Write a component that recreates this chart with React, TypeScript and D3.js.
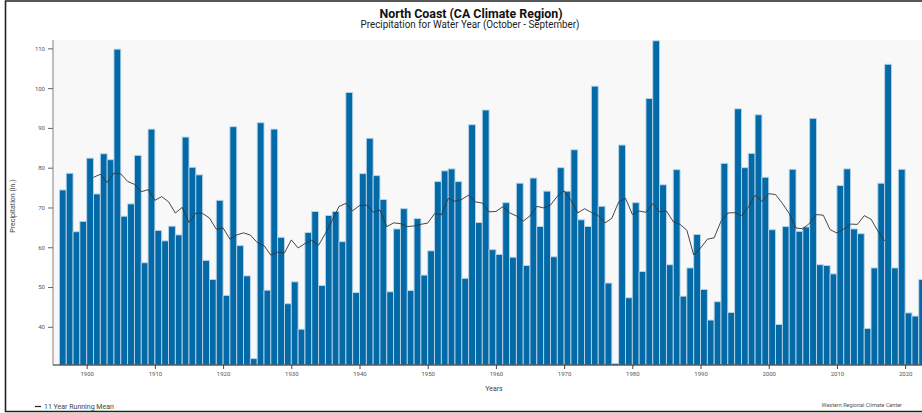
import * as d3 from "d3";
import { useEffect, useRef } from "react";

// water year precipitation (inches), North Coast, 1896 onwards
const firstYear = 1896;
const precip = [
  74.4, 78.6, 63.9, 66.5, // 1896-1899
  82.4, 73.4, 83.5, 82.0, 109.8, 67.8, 70.9, 83.1, 56.1, 89.7, // 1900s
  64.2, 61.6, 65.3, 63.1, 87.7, 80.1, 78.2, 56.7, 51.9, 71.8, // 1910s
  47.9, 90.3, 60.4, 52.8, 32.0, 91.3, 49.2, 89.7, 62.5, 45.8, // 1920s
  51.3, 39.4, 63.7, 69.0, 50.4, 68.0, 69.0, 61.4, 98.9, 48.6, // 1930s
  78.5, 87.4, 78.0, 72.0, 48.8, 64.6, 69.7, 49.1, 67.2, 53.0, // 1940s
  59.1, 76.5, 79.2, 79.7, 76.5, 52.2, 90.8, 66.2, 94.5, 59.4, // 1950s
  58.2, 71.2, 57.5, 76.1, 55.4, 77.4, 65.2, 74.1, 57.6, 80.0, // 1960s
  74.1, 84.5, 66.9, 65.2, 100.5, 70.3, 51.0, 30.8, 85.7, 47.3, // 1970s
  71.2, 53.9, 97.4, 111.9, 75.7, 55.6, 79.5, 47.7, 54.8, 63.2, // 1980s
  49.4, 41.7, 46.3, 81.1, 43.6, 94.8, 80.0, 83.6, 93.3, 77.6, // 1990s
  64.4, 40.6, 65.2, 79.6, 64.0, 65.1, 92.4, 55.6, 55.4, 53.3, // 2000s
  75.5, 79.7, 64.6, 63.4, 39.6, 54.8, 76.1, 106.0, 54.8, 79.6, // 2010s
  43.5, 42.7, 51.9, // 2020-2022
];
const yTicks = [40, 50, 60, 70, 80, 90, 100, 110];
const xTicks = [1900, 1910, 1920, 1930, 1940, 1950, 1960, 1970, 1980, 1990, 2000, 2010, 2020];
const meanWindow = 11;

export default function App() {
  const ref = useRef<SVGSVGElement>(null);

  useEffect(() => {
    const W = 922,
      H = 413;
    const plot = { left: 53, top: 40, bottom: 365 };

    const data = precip.map((v, i) => ({ year: firstYear + i, value: v }));
    const lastYear = firstYear + precip.length;

    // 11-year centred running mean of the bars
    const half = Math.floor(meanWindow / 2);
    const running = data
      .filter((d, i) => i >= half && i < data.length - half)
      .map((d) => {
        const i = d.year - firstYear;
        return { year: d.year, value: d3.mean(precip.slice(i - half, i + half + 1)) as number };
      });

    const svg = d3.select(ref.current);
    svg.selectAll("*").remove();

    const x = d3.scaleLinear().domain([firstYear, lastYear]).range([59.4, 925.6]);
    const y = d3.scaleLinear().domain([30.4, 112.1]).range([plot.bottom, plot.top]);

    svg.append("rect").attr("width", W).attr("height", H).attr("fill", "#fff");

    svg
      .append("rect")
      .attr("x", plot.left)
      .attr("y", plot.top)
      .attr("width", W - plot.left)
      .attr("height", plot.bottom - plot.top)
      .attr("fill", "#f8f8f8");

    svg
      .append("g")
      .selectAll("rect")
      .data(data)
      .join("rect")
      .attr("x", (d) => x(d.year))
      .attr("y", (d) => y(d.value))
      .attr("width", (d) => x(d.year + 1) - x(d.year))
      .attr("height", (d) => plot.bottom - y(d.value))
      .attr("fill", "#036aa7")
      .attr("stroke", "#b9d5ea")
      .attr("stroke-width", 0.9);

    const line = d3
      .line<{ year: number; value: number }>()
      .x((d) => x(d.year))
      .y((d) => y(d.value));

    svg
      .append("path")
      .datum(running)
      .attr("d", line)
      .attr("fill", "none")
      .attr("stroke", "#333")
      .attr("stroke-width", 0.9);

    // axes
    const yAxis = svg
      .append("g")
      .attr("transform", `translate(${plot.left},0)`)
      .call(d3.axisLeft(y).tickValues(yTicks).tickSize(5).tickPadding(3));
    yAxis.select(".domain").attr("stroke", "#aaa").attr("stroke-width", 1.5).attr("d", `M0,${plot.top}V${plot.bottom}`);
    yAxis.selectAll(".tick line").attr("stroke", "#666");
    yAxis.selectAll(".tick text").attr("fill", "#555").style("font-size", "6px").style("font-family", "Roboto, sans-serif");

    const xAxis = svg
      .append("g")
      .attr("transform", `translate(0,${plot.bottom})`)
      .call(d3.axisBottom(x).tickValues(xTicks).tickFormat(d3.format("d")).tickSize(4).tickPadding(3));
    xAxis.select(".domain").attr("stroke", "#222").attr("stroke-width", 1.2).attr("d", `M${plot.left},0H${W}`);
    xAxis.selectAll(".tick line").attr("stroke", "#444");
    xAxis.selectAll(".tick text").attr("fill", "#555").style("font-size", "6px").style("font-family", "Roboto, sans-serif");

    // titles
    svg
      .append("text")
      .attr("x", 471)
      .attr("y", 17.5)
      .attr("text-anchor", "middle")
      .attr("font-family", "'Liberation Sans Narrow', Roboto, sans-serif")
      .attr("font-weight", "bold")
      .attr("font-size", 13)
      .attr("textLength", 183)
      .attr("lengthAdjust", "spacingAndGlyphs")
      .attr("fill", "#111")
      .text("North Coast (CA Climate Region)");

    svg
      .append("text")
      .attr("x", 470)
      .attr("y", 28)
      .attr("text-anchor", "middle")
      .attr("font-family", "'Liberation Sans Narrow', Roboto, sans-serif")
      .attr("font-size", 10)
      .attr("textLength", 219)
      .attr("lengthAdjust", "spacingAndGlyphs")
      .attr("fill", "#222")
      .text("Precipitation for Water Year (October - September)");

    svg
      .append("text")
      .attr("transform", `translate(15,206) rotate(-90)`)
      .attr("text-anchor", "middle")
      .attr("font-family", "Roboto, sans-serif")
      .attr("font-size", 7)
      .attr("fill", "#444")
      .text("Precipitation (in.)");

    svg
      .append("text")
      .attr("x", 494)
      .attr("y", 391)
      .attr("text-anchor", "middle")
      .attr("font-family", "Roboto, sans-serif")
      .attr("font-size", 7)
      .attr("fill", "#444")
      .text("Years");

    // legend
    svg
      .append("line")
      .attr("x1", 35)
      .attr("x2", 41)
      .attr("y1", 406.5)
      .attr("y2", 406.5)
      .attr("stroke", "#222")
      .attr("stroke-width", 1.2);
    svg
      .append("text")
      .attr("x", 44)
      .attr("y", 409)
      .attr("font-family", "Roboto, sans-serif")
      .attr("font-size", 7)
      .attr("fill", "#444")
      .text("11 Year Running Mean");

    svg
      .append("text")
      .attr("x", 902)
      .attr("y", 407)
      .attr("text-anchor", "end")
      .attr("font-family", "Roboto, sans-serif")
      .attr("font-size", 5.5)
      .attr("fill", "#555")
      .text("Western Regional Climate Center");

    // outer frame
    svg
      .append("path")
      .attr("d", `M${W + 5},1H5.5V411.5H${W + 5}`)
      .attr("fill", "none")
      .attr("stroke", "#222")
      .attr("stroke-width", 1.6);
  }, []);

  return (
    <svg
      ref={ref}
      width={922}
      height={413}
      style={{ position: "absolute", left: 0, top: 0, display: "block" }}
    />
  );
}
